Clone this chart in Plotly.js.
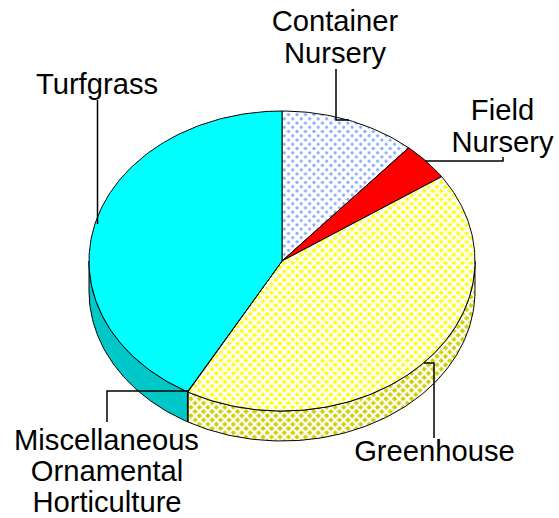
<!DOCTYPE html>
<html><head><meta charset="utf-8">
<script src="https://cdn.plot.ly/plotly-3.0.1.min.js"></script>
<style>html,body{margin:0;padding:0;background:#fff}</style></head>
<body><div id="c" style="width:559px;height:518px"></div>
<script>
const categories = ["Container Nursery","Field Nursery","Greenhouse","Miscellaneous Ornamental Horticulture","Turfgrass"];
const shares = [11.4, 4.1, 42.6, 0.05, 41.85];
const labelText = ["Container","Nursery","Field","Nursery","Turfgrass","Greenhouse","Miscellaneous","Ornamental","Horticulture"];
const labelX = [335,335,502.5,502.5,97,434.5,106.5,107,107];
const labelY = [24,56,113,145,87,454,443,474,505];
const leaders = [
  [[336,69],[336,120],[349,120]],
  [[425,161],[503,161],[503,157]],
  [[97.5,100],[97.5,224]],
  [[107,422],[107,391],[189,391]],
  [[434,438],[434,363],[424,363]]
];
const W=559,H=518,cx=282,cy=261,rx=193,ry=150,depth=30;
const topStyles = [
  {shape:"x",bg:"#7fa8ff",fg:"#ffffff",size:6,solidity:0.8},
  null,
  {shape:"x",bg:"#ffff00",fg:"#ffffff",size:6,solidity:0.66},
  null,
  null
];
const solid = ["#ffffff","#ff0000","#ffff00","#00c8c8","#00ffff"];
const sideSolid = ["#ffffff","#c80000","#c8c800","#00c8c8","#00c8c8"];
const sidePattern = {shape:"x",bg:"#cfcf00",fg:"#ffffff",size:6,solidity:0.6};

const total = shares.reduce((a,b)=>a+b,0);
const rad = d=>d*Math.PI/180;
function arc(a,b,dz){const n=Math.max(2,Math.ceil(Math.abs(b-a)));const xs=[],ys=[];
  for(let i=0;i<=n;i++){const t=rad(a+(b-a)*i/n);xs.push(Math.sin(t));ys.push(Math.cos(t)-dz);}return [xs,ys];}
const dz=depth/ry, traces=[];
function add(xs,ys,fill,pat){const t={x:xs,y:ys,mode:"lines",type:"scatter",fill:"toself",fillcolor:fill,
  line:{color:"#000",width:1},hoverinfo:"skip",showlegend:false};
  if(pat)t.fillpattern={shape:pat.shape,bgcolor:pat.bg,fgcolor:pat.fg,size:pat.size,solidity:pat.solidity,fillmode:"replace"};
  traces.push(t);}
let start=0;const angles=shares.map(v=>{const a=start;start+=v/total*360;return [a,start];});
angles.forEach(([a,b],i)=>{const s=Math.max(a,90),e=Math.min(b,270);if(e<=s)return;
  const t=arc(s,e,0),u=arc(e,s,dz);
  add(t[0].concat(u[0],[t[0][0]]),t[1].concat(u[1],[t[1][0]]),sideSolid[i],i===2?sidePattern:null);});
angles.forEach(([a,b],i)=>{const t=arc(a,b,0);
  add([0].concat(t[0],[0]),[0].concat(t[1],[0]),solid[i],topStyles[i]);});
const dx=x=>(x-cx)/rx, dy=y=>(cy-y)/ry;
leaders.forEach(l=>traces.push({x:l.map(p=>dx(p[0])),y:l.map(p=>dy(p[1])),mode:"lines",type:"scatter",
  line:{color:"#000",width:1.5},hoverinfo:"skip",showlegend:false}));
traces.push({x:labelX.map(dx),y:labelY.map(dy),text:labelText,mode:"text",type:"scatter",textposition:"middle center",
  cliponaxis:false,textfont:{family:"Liberation Sans, Arial, sans-serif",size:29.2,color:"#000"},hoverinfo:"skip",showlegend:false});

const layout={width:W,height:H,margin:{l:0,r:0,t:0,b:0},paper_bgcolor:"#fff",plot_bgcolor:"#fff",showlegend:false,
  xaxis:{range:[-cx/rx,(W-cx)/rx],visible:false,fixedrange:true},
  yaxis:{range:[(cy-H)/ry,cy/ry],visible:false,fixedrange:true}};
Plotly.newPlot("c",traces,layout,{displayModeBar:false,staticPlot:true});
</script></body></html>
